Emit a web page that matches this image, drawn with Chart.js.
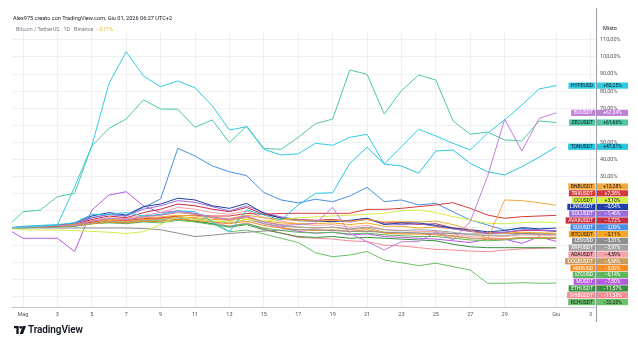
<!DOCTYPE html>
<html>
<head>
<meta charset="utf-8">
<script src="https://cdn.jsdelivr.net/npm/chart.js@4.4.1/dist/chart.umd.min.js"></script>
<style>
  body { margin: 0; background: #fff; }
  #wrap { position: relative; width: 638px; height: 342px; overflow: hidden; font-family: Roboto, 'Noto Sans', sans-serif; }
  #chart { position: absolute; left: 0; top: 0; }
  .hdr { position: absolute; white-space: nowrap; }
  #h1 { left: 13px; top: 15px; font-size: 5.6px; color: #131722; }
  #h2 { left: 16px; top: 26px; font-size: 5.4px; color: #787b86; }
  #h2 span { color: #f0b323; }
  #logo { position: absolute; left: 14px; top: 324px; display: flex; align-items: center; }
  #logo b { font-size: 10px; font-weight: 600; color: #131722; margin-left: 2px; letter-spacing: -0.1px; }
</style>
</head>
<body>
<div id="wrap">
  <canvas id="chart" width="638" height="342"></canvas>
  <div class="hdr" id="h1">Alex975 creato con TradingView.com, Giu 01, 2026 06:27 UTC+2</div>
  <div class="hdr" id="h2">Bitcoin / TetherUS · 1D · Binance &nbsp;<span>−3,11%</span></div>
  <div id="logo">
    <svg width="12" height="8" viewBox="0 0 36 24"><path d="M0 0h14v24H7V7H0z" fill="#131722"/><circle cx="20" cy="4" r="4" fill="#131722"/><path d="M26 0h10l-9 24H17z" fill="#131722"/></svg>
    <b>TradingView</b>
  </div>
</div>
<script>
// day index: -1 = 30 Apr, 0 = 1 May ... 31 = 1 Jun
const days = [-1, 0, 1, 2, 3, 4, 5, 6, 7, 8, 9, 10, 11, 12, 13, 14, 15, 16, 17, 18, 19, 20, 21, 22, 23, 24, 25, 26, 27, 28, 29, 30, 31];
const xTickDays = [0, 2, 4, 6, 8, 10, 12, 14, 16, 18, 20, 22, 24, 26, 28, 31, 33];
const xTickLabels = ['Mag', '3', '5', '7', '9', '11', '13', '15', '17', '19', '21', '23', '25', '27', '29', 'Giu', '3'];
const yGridValues = [-40, -30, -20, -10, 0, 10, 20, 30, 40, 50, 60, 70, 80, 90, 100, 110];
const yShownLabels = [30, 40, 50, 70, 80, 90, 100, 110];

// percent change vs 30 Apr
const hype = [0, 0.5, 1, 1.8, 24, 48, 84.6, 103.1, 88.9, 82.6, 86, 82, 71.5, 57.3, 59.2, 46, 42.7, 43.4, 49.5, 48.4, 53, 54.8, 37.4, 47.6, 57.7, 53.8, 49.5, 45.6, 55.4, 63.2, 71.9, 81.3, 83.25];
const eli = [0, 0.5, 1, 1.5, 1.5, 4, 5.5, 5, 6.5, 7.5, 9.5, 8.5, 6.5, 5, 7, 3.5, 1.5, 2, 2.7, 12.1, -3.1, -8, -12.9, -8, -8, -2.2, -7, 3.7, 30, 63.6, 45, 64.1, 67.34];
const zec = [0, 9.5, 10.5, 18.3, 20.3, 48, 58.3, 63.7, 74.9, 69.6, 69.4, 58.9, 63.2, 49.9, 59.6, 46.6, 46, 53, 61, 63.7, 92.4, 89.9, 66.7, 80.3, 89.5, 86.5, 62.6, 54.8, 56.1, 51.5, 50.9, 62.6, 61.66];
const ton = [0, 1, 1.5, 2, 3, 8, 8, 9, 7, 8, 10, 9.5, 3.7, -2.2, 10.5, 7.6, 4.7, 13.5, 20.3, 20.6, 37.8, 47.2, 37.4, 36.3, 32, 45, 45.6, 37.8, 32.9, 31, 35.9, 41.3, 47.51];
const bnb = [0, 0.5, 1, 1.5, 2, 4, 5, 5, 6, 6.5, 7.5, 7, 6, 5.5, 7.5, 6, 5, 4.5, 4, 4.5, 4, 5, 3.5, 4, 3.5, 4, 2, -1, -6.5, 16.4, 16, 14.8, 13.28];
const trx = [0, 0.5, 1, 1.5, 2, 3.5, 5, 4.5, 5.5, 6, 7, 7.5, 7, 7, 8.5, 8, 8.5, 8.6, 8.6, 8.6, 8.6, 10.9, 10.9, 11.5, 12.5, 13.5, 14.8, 11.5, 7.6, 5.7, 6.6, 7, 7.38];
const cc = [0, -1, -1.2, -1.2, -1.5, -2, -2.5, -3.2, -2.2, 2, 7, 5, 4, 3.5, 5, 4, 5, 6, 6.5, 7, 7.5, 8, 8.6, 10.1, 10.5, 9, 6.6, 4.7, 2.7, 2.5, 3.1, 3.5, 3.1];
const link = [0, 0.5, 1, 1.5, 3, 7, 9, 7.6, 12.5, 14, 17.4, 16.4, 13, 11.5, 14.4, 8.6, 5.7, 4.3, 4, 3.7, 4.5, 5.7, 2, 3, 3, 1.5, 0, -1, -2.2, -1.5, 0.2, -0.5, -0.04];
const sol = [0, 0.5, 1, 1.5, 2.5, 6, 8, 7, 11, 13, 16, 15, 12.5, 10, 13, 9, 6.5, 5, 4, 4.5, 3.5, 5, 2.5, 2, 2.5, 1, -0.5, -2, -3, -2.5, -1, -1.2, -1.46];
const avax = [0, 0.5, 1, 1.2, 2, 5, 7, 6, 9, 11, 14, 13, 11, 9.5, 12, 8, 6, 5, 4.5, 5, 4, 5.5, 3, 3, 2, 2.5, 0, -1.5, -3, -2.5, -1.5, -1.5, -1.72];
const sui = [0, 0.5, 1, 1.5, 2, 6, 8, 7, 12, 17, 46.6, 42.1, 36.3, 32.9, 30.6, 20.8, 16.4, 14.7, 16.8, 15.4, 18.7, 23.8, 15.4, 16.4, 13.5, 14.4, 9.5, 4.7, 1.8, -1.2, -0.2, -1.2, -2.09];
const btc = [0, 0.3, 0.8, 1.2, 1.5, 3.5, 4.5, 4, 5, 5.5, 6.5, 6, 5, 4.5, 6, 4, 3, 2.5, 2.5, 3, 2, 3, 1, 1, 0, 0.5, -0.5, -2, -3, -3, -2.5, -2.8, -3.11];
const leo = [0, 0, 0, 0, 0, 0, 0, 0, -0.3, -1, -3, -5, -4.2, -3.2, -2.5, -1.8, -1.2, -1, -1, -1.5, -2, -2, -2.5, -2.5, -3, -3, -3.2, -3.5, -3.5, -3.3, -3.2, -3.3, -3.31];
const xrp = [0, 0.3, 0.8, 1, 1.5, 3, 4, 3.5, 4.5, 5, 6, 5.5, 4, 3, 5, 2.5, 1, 0.5, 0, 0.5, -0.5, 0.5, -1, -1.5, -1, -1.5, -2.5, -4, -4.5, -4.5, -3.5, -3.8, -3.97];
const ada = [0, 0.5, 1, 1.5, 2, 4.5, 6, 5.5, 7.5, 9, 12, 11, 9, 8, 10, 6, 4, 2.5, 1.5, 2, 0.5, 1.5, -1, -1.5, -2, -2, -3.5, -5, -5.5, -5, -4, -4.2, -4.59];
const doge = [0, 0.5, 1, 1.5, 2, 4, 5.5, 5, 7, 7.5, 9, 8, 6, 5, 7, 3.5, 2, 0.5, 0, 0.5, -1, 0, -2.5, -3, -3, -3.5, -4.5, -6, -6.5, -6.5, -5.5, -5.5, -5.68];
const xmr = [0, 0.3, 0.5, 1, 1.5, 2.5, 3.5, 3, 4, 4, 5, 4.5, 3.5, 2.5, 4, 1.5, 0, -1, -1.5, -1, -2, -1, -3, -3.5, -3.5, -4, -5, -6, -6.5, -6.5, -5.5, -5.8, -5.82];
const ltc = [0, 0.3, 0.5, 0.8, 1, 2.5, 3, 2.5, 3.5, 3, 4.5, 3.5, 2, 1, 2.5, 0, -1.5, -2.5, -3, -2.5, -3.5, -3, -4, -4.5, -5, -5, -6, -7, -7.5, -7, -6, -6.2, -6.14];
const mToken = [0, -6, -6, -6, -13.8, 10.5, 19.3, 21.2, 13, 9, 10, 8.5, 6, 4.5, 6.5, 2.5, 0.5, -2, -3, -2.5, -4, -3.5, -5, -5.5, -6, -6.5, -7.5, -8.5, -6.5, -6.5, -9, -5.2, -7.8];
const eth = [0, 0.3, 0.5, 1, 1.2, 2.5, 3.5, 3, 4, 4, 5, 4, 2.5, 0.5, 2, -1, -3, -5, -5.5, -5, -6, -5.5, -6, -6.5, -7, -7.5, -9.5, -11, -11.5, -11.5, -11.5, -11.5, -11.57];
const shib = [0, 0.3, 0.5, 1, 1.5, 3, 4, 3.5, 5, 5.5, 6.5, 5.5, 3.5, 1, 3, -0.5, -3, -5.5, -6, -6.5, -7.5, -8, -10, -10.5, -11.5, -12.5, -12.9, -13.5, -13.8, -13, -12.2, -11.9, -11.58];
const rch = [0, 0, 0.5, 0.5, 1, 3, 4, 3, 4, 5, 6, 4, 2.7, -2.2, -1.2, -3.5, -6, -8.5, -14.5, -16.8, -15.8, -13.8, -18.7, -20.3, -22, -20.6, -22.6, -24.6, -32.3, -32.3, -32, -32.3, -32.2];

const seriesNames = ['HYPEUSD', 'ELIUSDT', 'ZECUSDT', 'TONUSDT', 'BNBUSDT', 'TRXUSDT', 'CCUSDT', 'LINKUSDT', 'SOLUSDT', 'AVAXUSDT', 'SUIUSDT', 'BTCUSDT', 'LEOUSD', 'XRPUSDT', 'ADAUSDT', 'DOGEUSDT', 'XMRUSD', 'LTCUSD', 'MUSDT', 'ETHUSDT', 'SHIBUSDT', 'RCHUSDT'];
const seriesValues = [hype, eli, zec, ton, bnb, trx, cc, link, sol, avax, sui, btc, leo, xrp, ada, doge, xmr, ltc, mToken, eth, shib, rch];
const seriesColors = ['#30cde2', '#c17fd9', '#4fc7a5', '#29c4e0', '#f5a93a', '#d43a3a', '#d5ef45', '#1f3ea8', '#9c6cdc', '#c62e3f', '#4a8ee8', '#f6a623', '#8e8e8e', '#a2a2a2', '#f5a3a8', '#c99b5e', '#fb8a1f', '#5db85b', '#b45be0', '#3b8f3f', '#f58c93', '#6cc26a'];
const darkLabel = ['HYPEUSD', 'ZECUSDT', 'TONUSDT', 'BNBUSDT', 'CCUSDT', 'BTCUSDT', 'ADAUSDT', 'RCHUSDT'];

function fmtPct(v) {
  const s = v > 0 ? '+' : (v < 0 ? '\u2212' : '');
  return s + Math.abs(v).toFixed(2).replace('.', ',') + '%';
}

// price-scale tags on the right, stacked so they do not overlap
const tagPlugin = {
  id: 'tags',
  afterDraw(chart) {
    const { ctx, chartArea, scales } = chart;
    const h = 6.8;
    const items = seriesNames.map((name, k) => {
      const v = seriesValues[k][seriesValues[k].length - 1];
      return { name, v, color: seriesColors[k], y: scales.y.getPixelForValue(v) };
    });
    items.sort((a, b) => a.y - b.y);
    for (let k = 1; k < items.length; k++) items[k].y = Math.max(items[k].y, items[k - 1].y + h);
    const lim = chartArea.bottom - h / 2 - 1.5;
    const n = items.length;
    if (items[n - 1].y > lim) items[n - 1].y = lim;
    for (let k = n - 2; k >= 0; k--) items[k].y = Math.min(items[k].y, items[k + 1].y - h);

    ctx.save();
    // right scale line
    ctx.strokeStyle = '#9aa0ab';
    ctx.lineWidth = 1;
    ctx.beginPath();
    ctx.moveTo(chartArea.right + 0.5, 8);
    ctx.lineTo(chartArea.right + 0.5, 322);
    ctx.stroke();
    ctx.beginPath();

    ctx.font = '5px Roboto';
    ctx.textBaseline = 'middle';
    items.forEach(it => {
      const dark = darkLabel.includes(it.name);
      const tw = ctx.measureText(it.name).width;
      const nw = tw + 5;
      const top = it.y - h / 2 + 0.3;
      ctx.fillStyle = it.color;
      ctx.fillRect(chartArea.right - 0.5 - nw, top, nw, h - 0.6);
      ctx.fillRect(chartArea.right + 1, top, 31, h - 0.6);
      ctx.fillStyle = dark ? '#131722' : '#ffffff';
      ctx.textAlign = 'center';
      ctx.fillText(it.name, chartArea.right - 0.5 - nw / 2, it.y + 0.2);
      ctx.fillText(fmtPct(it.v), chartArea.right + 16.5, it.y + 0.2);
    });

    ctx.fillStyle = '#131722';
    ctx.textAlign = 'left';
    ctx.font = '5.5px Roboto';
    ctx.fillText('Misto', chartArea.right + 7, 29);
    ctx.restore();
  }
};

new Chart(document.getElementById('chart'), {
  type: 'line',
  data: {
    datasets: seriesNames.map((name, k) => ({
      label: name,
      data: seriesValues[k].map((v, j) => ({ x: days[j], y: v })),
      borderColor: seriesColors[k],
      backgroundColor: seriesColors[k],
      fill: false,
      borderWidth: 1,
      pointRadius: 0,
      tension: 0,
      // stroke each line directly instead of through a cached Path2D
      segment: { borderColor: () => seriesColors[k] }
    }))
  },
  options: {
    responsive: false,
    animation: false,
    events: [],
    layout: { padding: { left: 12, top: 31, right: 0, bottom: 0 } },
    plugins: { legend: { display: false }, tooltip: { enabled: false } },
    scales: {
      x: {
        type: 'linear',
        min: -0.64,
        max: 33.31,
        afterBuildTicks: s => { s.ticks = xTickDays.map(v => ({ value: v })); },
        afterFit: s => { s.height = 35; },
        ticks: {
          autoSkip: false,
          maxRotation: 0,
          padding: 4,
          color: '#555',
          font: { family: 'Roboto', size: 5.5 },
          callback: v => xTickLabels[xTickDays.indexOf(v)]
        },
        grid: { color: '#eef0f4', drawTicks: false },
        border: { color: '#c3c6cc' }
      },
      y: {
        position: 'right',
        min: -46.2,
        max: 115.2,
        afterBuildTicks: s => { s.ticks = yGridValues.map(v => ({ value: v })); },
        afterFit: s => { s.width = 42; },
        ticks: {
          autoSkip: false,
          padding: 4,
          color: '#555',
          font: { family: 'Roboto', size: 5.5 },
          callback: v => yShownLabels.includes(v) ? v.toFixed(2).replace('.', ',') + '%' : ''
        },
        grid: { color: '#eef0f4', drawTicks: false },
        border: { display: false }
      }
    }
  },
  plugins: [tagPlugin]
});
</script>
</body>
</html>
